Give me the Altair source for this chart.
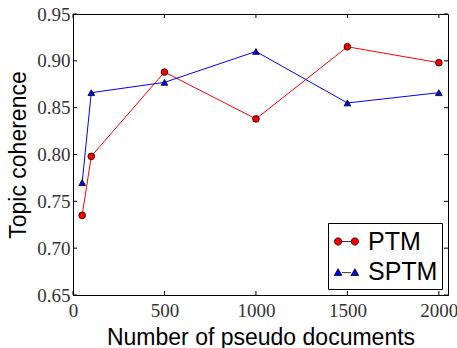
import altair as alt
import pandas as pd

x_vals = [50, 100, 500, 1000, 1500, 2000]
ptm = [0.735, 0.798, 0.888, 0.838, 0.915, 0.898]
sptm = [0.770, 0.866, 0.877, 0.910, 0.855, 0.866]
series_names = ["PTM", "SPTM"]
colors = ["#ff0000", "#0000ff"]
x_ticks = [0, 500, 1000, 1500, 2000]
y_ticks = [0.65, 0.70, 0.75, 0.80, 0.85, 0.90, 0.95]

W, H = 375, 281

df = pd.DataFrame({
    "x": x_vals * 2,
    "y": ptm + sptm,
    "series": [series_names[0]] * len(x_vals) + [series_names[1]] * len(x_vals),
})
xt = pd.DataFrame({"t": x_ticks})
yt = pd.DataFrame({"t": y_ticks})

xscale = alt.Scale(domain=[0, 2050], nice=False, zero=False)
yscale = alt.Scale(domain=[0.65, 0.95], nice=False, zero=False)

X = alt.X("x:Q", scale=xscale, title="Number of pseudo documents",
          axis=alt.Axis(values=x_ticks, format="d", labelFlush=False, tickSize=0,
                        labelPadding=6, titlePadding=6, grid=False))
Y = alt.Y("y:Q", scale=yscale, title="Topic coherence",
          axis=alt.Axis(values=y_ticks, format=".2f", labelFlush=False, tickSize=0,
                        labelPadding=3, titlePadding=6, grid=False))

base = alt.Chart(df).encode(x=X, y=Y)

layers = []
shapes = ["circle", "triangle-up"]
for name, col, shp in zip(series_names, colors, shapes):
    sub = base.transform_filter(alt.datum.series == name)
    layers.append(sub.mark_line(color=col, strokeWidth=1))
for name, col, shp in zip(series_names, colors, shapes):
    sub = base.transform_filter(alt.datum.series == name)
    layers.append(sub.mark_point(shape=shp, filled=True, fill=col, stroke="black",
                                 strokeWidth=0.8, size=45, opacity=1))

legend_paths = [
    "M-0.34,0L0.34,0"
    "M-0.86,0a0.26,0.26 0 1,0 0.52,0a0.26,0.26 0 1,0 -0.52,0"
    "M0.34,0a0.26,0.26 0 1,0 0.52,0a0.26,0.26 0 1,0 -0.52,0",
    "M-0.33,0.08L0.33,0.08"
    "M-0.87,0.28L-0.33,0.28L-0.6,-0.2Z"
    "M0.33,0.28L0.87,0.28L0.6,-0.2Z",
]
legend_layer = base.mark_point(filled=True, opacity=0).encode(
    fill=alt.Fill("series:N", scale=alt.Scale(domain=series_names, range=colors),
                  legend=alt.Legend(title=None)),
    stroke=alt.Stroke("series:N", scale=alt.Scale(domain=series_names, range=["black", "black"]),
                      legend=alt.Legend(title=None)),
    shape=alt.Shape("series:N", scale=alt.Scale(domain=series_names, range=legend_paths),
                    legend=alt.Legend(title=None)),
)
layers.append(legend_layer)

# inward ticks
layers.append(alt.Chart(xt).mark_rule(color="black", strokeWidth=1).encode(
    x=alt.X("t:Q", scale=xscale), y=alt.value(H), y2=alt.value(H - 4)))
layers.append(alt.Chart(xt).mark_rule(color="black", strokeWidth=1).encode(
    x=alt.X("t:Q", scale=xscale), y=alt.value(0), y2=alt.value(4)))
layers.append(alt.Chart(yt).mark_rule(color="black", strokeWidth=1).encode(
    y=alt.Y("t:Q", scale=yscale), x=alt.value(0), x2=alt.value(4)))
layers.append(alt.Chart(yt).mark_rule(color="black", strokeWidth=1).encode(
    y=alt.Y("t:Q", scale=yscale), x=alt.value(W), x2=alt.value(W - 4)))

chart = alt.layer(*layers).properties(
    width=W, height=H,
    autosize=alt.AutoSizeParams(type="none"),
    padding={"left": 73, "top": 14, "right": 9, "bottom": 53},
).configure_view(
    stroke="black", strokeWidth=1
).configure_axis(
    domainColor="black", domainWidth=1,
    labelFont="Liberation Serif", labelFontSize=19, labelColor="#333333",
    titleFont="Liberation Sans", titleFontSize=23, titleFontWeight="normal", titleColor="black",
).configure_legend(
    orient="bottom-right", offset=6,
    strokeColor="black", fillColor="white", padding=4,
    labelFont="Liberation Sans", labelFontSize=25, labelColor="black",
    symbolSize=784, symbolOpacity=1, symbolStrokeWidth=0.8,
    labelOffset=7, rowPadding=2, cornerRadius=0,
)

chart.save("out.html", embed_options={"renderer": "svg", "actions": False})
